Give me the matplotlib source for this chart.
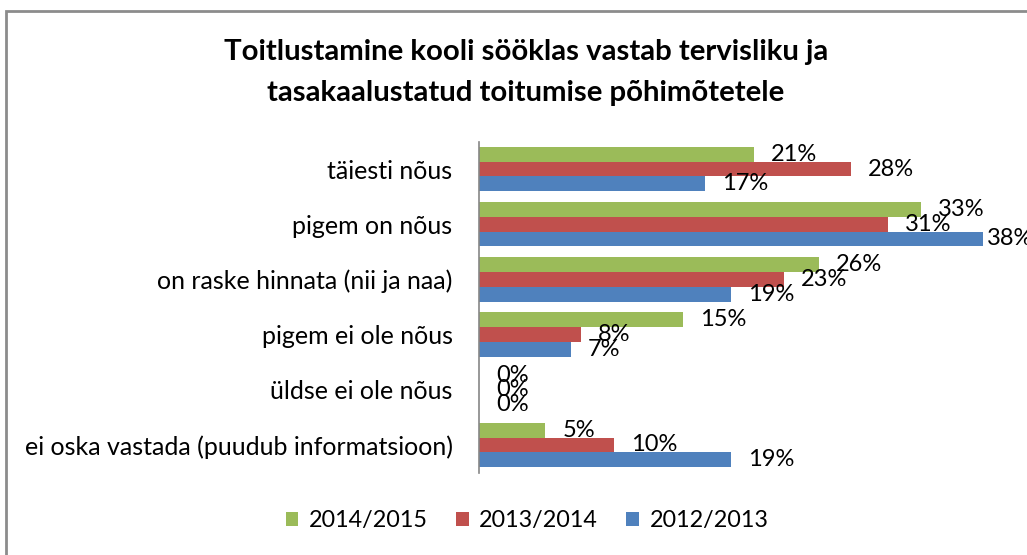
import matplotlib
matplotlib.use("Agg")
import matplotlib.pyplot as plt
from matplotlib.patches import Rectangle

plt.rcParams['font.family'] = ['Lato', 'DejaVu Sans']

categories = [
    "täiesti nõus",
    "pigem on nõus",
    "on raske hinnata (nii ja naa)",
    "pigem ei ole nõus",
    "üldse ei ole nõus",
    "ei oska vastada (puudub informatsioon)",
]
series_names = ["2014/2015", "2013/2014", "2012/2013"]
colors = ["#9bbb59", "#c0504d", "#4f81bd"]

v_2014_2015 = [0.207, 0.333, 0.256, 0.154, 0.0, 0.050]
v_2013_2014 = [0.280, 0.308, 0.230, 0.077, 0.0, 0.102]
v_2012_2013 = [0.170, 0.380, 0.190, 0.069, 0.0, 0.190]
series = [v_2014_2015, v_2013_2014, v_2012_2013]

W, H = 1027, 555
fig = plt.figure(figsize=(W / 100, H / 100), dpi=100)

# grey chart border (right/bottom edges fall outside the picture)
fig.patches.append(Rectangle((6 / W, -0.01), 1.1, 1 - 10.5 / H + 0.01,
                             transform=fig.transFigure, fill=False,
                             edgecolor="#8c8c8c", linewidth=2))

left, right = 479, 1010
top, bottom = 141.5, 472.5
ax = fig.add_axes([left / W, 1 - bottom / H, (right - left) / W, (bottom - top) / H])

n = len(categories)
bar_h = 0.267
for i, (vals, col, name) in enumerate(zip(series, colors, series_names)):
    ys = [c + (i - 1) * bar_h for c in range(n)]
    ax.barh(ys, vals, height=bar_h, color=col, label=name, edgecolor="none")
    for y, v in zip(ys, vals):
        # labels near the right edge get pulled in, like excel does
        dx = 3 if v > 0.36 else 17
        ax.annotate(f"{round(v * 100):.0f}%", (v, y), xytext=(dx, 0),
                    textcoords="offset pixels",
                    va="center", ha="left", fontsize=17, annotation_clip=False)

ax.set_xlim(0, 0.40)
ax.set_ylim(n - 0.5, -0.5)
ax.set_yticks(range(n))
ax.set_yticklabels(categories, fontsize=18)
ax.tick_params(axis="y", length=0, pad=19)
ax.set_xticks([])
for s in ["top", "right", "bottom"]:
    ax.spines[s].set_visible(False)
ax.spines["left"].set_color("#868686")
ax.spines["left"].set_linewidth(1.2)

fig.text(526 / W, 1 - 52 / H, "Toitlustamine kooli sööklas vastab tervisliku ja",
         ha="center", va="center", fontsize=21.2, fontweight="bold")
fig.text(526 / W, 1 - 93 / H, "tasakaalustatud toitumise põhimõtetele",
         ha="center", va="center", fontsize=21.2, fontweight="bold")

fig.legend(loc="center", bbox_to_anchor=(527 / W, 1 - 521 / H), ncol=3,
           frameon=False, fontsize=16.8, handlelength=0.55, handleheight=0.55,
           handletextpad=0.45, columnspacing=1.2)

fig.savefig("out.png", dpi=100)
